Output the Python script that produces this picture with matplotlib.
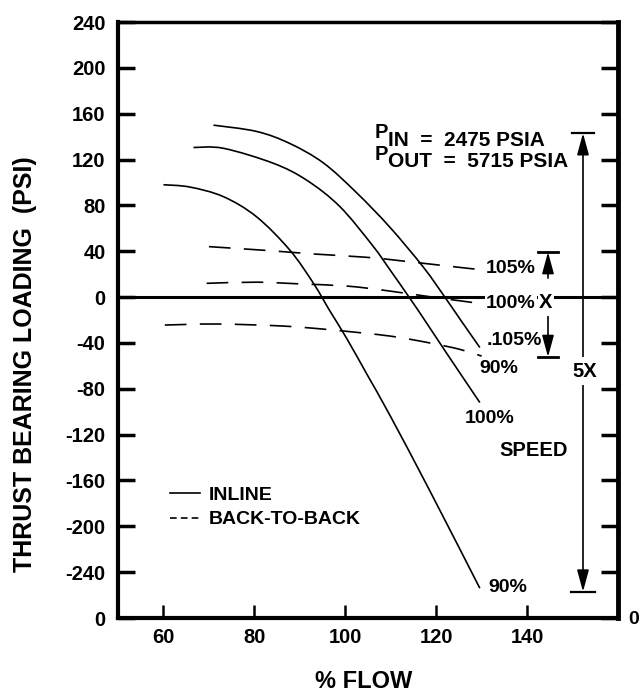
import numpy as np
import matplotlib
matplotlib.use('Agg')
import matplotlib.pyplot as plt
from matplotlib.lines import Line2D
from matplotlib.path import Path
from matplotlib.patches import PathPatch

plt.rcParams['font.family'] = ['Liberation Sans', 'DejaVu Sans']
plt.rcParams['font.weight'] = 'bold'

# inline arrangement (solid curves)
inline_upper_x = [71, 80.5, 87.8, 95.2, 102.5, 109.8, 117.2, 121.9, 125.2, 129.6]
inline_upper_y = [150, 144.5, 134, 117, 91, 61, 26, 0, -19, -44]
inline_mid_x = [66.6, 73.2, 84.2, 91.5, 98.8, 106, 109.8, 114.2, 117.2, 122.3, 129.6]
inline_mid_y = [130.5, 129.8, 116.7, 102, 79, 45, 24, -1, -18.5, -49, -92]
inline_low_x = [60, 65.8, 73.2, 80.5, 87.8, 93, 96.6, 100.3, 105, 109.8, 118.6, 129.6]
inline_low_y = [98, 96, 87.6, 70, 41, 12, -12, -36, -69, -103, -169, -254]

# back-to-back arrangement (dashed curves)
btb_105_x = [70, 83.4, 93, 104.7, 112.8, 123.8, 129.5]
btb_105_y = [44, 40.5, 37.6, 34.7, 31.4, 26.5, 24]
btb_100_x = [69.5, 80.5, 90, 100.3, 108.4, 118.6, 129.5]
btb_100_y = [12, 13, 11.5, 9.6, 6, 0.3, -5.5]
btb_low_x = [60.3, 71.7, 86.4, 97.4, 109.8, 118.3, 125.2, 130]
btb_low_y = [-24.4, -23.5, -25.3, -28.8, -34, -39.8, -45.6, -51.5]

x_ticks = [60, 80, 100, 120, 140]
y_ticks = [240, 200, 160, 120, 80, 40, 0, -40, -80, -120, -160, -200, -240, -280]
y_tick_labels = ['240', '200', '160', '120', '80', '40', '0', '-40', '-80',
                 '-120', '-160', '-200', '-240', '0']

# dimension markers on the right
x_dim_pos, x_dim_top, x_dim_bot = 144.6, 39.3, -52.3
big_dim_pos, big_dim_top, big_dim_bot = 152.3, 143, -257


def smooth_curve(ax, xs, ys, **kw):
    # draw the read points as one smooth line (Catmull-Rom as bezier segments)
    p = np.column_stack([xs, ys]).astype(float)
    ext = np.vstack([p[0], p, p[-1]])
    verts = [p[0]]
    codes = [Path.MOVETO]
    for i in range(len(p) - 1):
        c1 = ext[i + 1] + (ext[i + 2] - ext[i]) / 6
        c2 = ext[i + 2] - (ext[i + 3] - ext[i + 1]) / 6
        verts += [c1, c2, ext[i + 2]]
        codes += [Path.CURVE4] * 3
    ax.add_patch(PathPatch(Path(verts, codes), fill=False, **kw))


fig = plt.figure(figsize=(6.4, 6.95), dpi=100)
ax = fig.add_axes([118/640, 77/695, 500/640, 596/695])

lw = 1.2
dash = (0, (13, 8))
smooth_curve(ax, inline_upper_x, inline_upper_y, edgecolor='k', lw=lw)
smooth_curve(ax, inline_mid_x, inline_mid_y, edgecolor='k', lw=lw)
smooth_curve(ax, inline_low_x, inline_low_y, edgecolor='k', lw=lw)
smooth_curve(ax, btb_105_x, btb_105_y, edgecolor='k', lw=lw, ls=dash)
smooth_curve(ax, btb_100_x, btb_100_y, edgecolor='k', lw=lw, ls=dash)
smooth_curve(ax, btb_low_x, btb_low_y, edgecolor='k', lw=lw, ls=dash)

ax.axhline(0, color='k', lw=2.2, zorder=1)

ax.set_xlim(50, 160)
ax.set_ylim(-280, 240)
ax.set_xticks(x_ticks)
ax.set_yticks(y_ticks)
ax.set_yticklabels(y_tick_labels)

ax.tick_params(axis='y', direction='in', length=12, width=2.5, right=True,
               labelright=False, labelsize=14.5, pad=9)
ax.tick_params(axis='x', direction='in', length=9.5, width=1.8,
               labelsize=14.5, pad=7)
for side, w in [('left', 3), ('bottom', 3), ('right', 3.5), ('top', 2.5)]:
    ax.spines[side].set_linewidth(w)

ax.set_ylabel('THRUST BEARING LOADING  (PSI)', fontsize=18, fontweight='bold')
ax.yaxis.set_label_coords(-0.162, 0.426)
ax.set_xlabel('% FLOW', fontsize=17, fontweight='bold')
ax.xaxis.set_label_coords(0.492, -0.088)

# legend
handles = [Line2D([], [], color='k', lw=lw),
           Line2D([], [], color='k', lw=lw, ls=(0, (4, 2.5)))]
ax.legend(handles, ['INLINE', 'BACK-TO-BACK'], loc='upper left',
          bbox_to_anchor=(0.104, 0.221), frameon=False, fontsize=14,
          handlelength=1.55, handletextpad=0.45, borderpad=0, borderaxespad=0,
          labelspacing=0.35)

# pressure annotation
ax.text(106.5, 143.6, 'P', fontsize=14.5, va='center', ha='left')
ax.text(109.4, 136.2, 'IN  =  2475 PSIA', fontsize=15, va='center', ha='left')
ax.text(106.5, 124.4, 'P', fontsize=14.5, va='center', ha='left')
ax.text(109.4, 118.3, 'OUT  =  5715 PSIA', fontsize=15, va='center', ha='left')

# curve labels
white = dict(facecolor='white', edgecolor='none', pad=1)
ax.text(131, 25.3, '105%', fontsize=14, va='center', ha='left')
ax.text(131, -6, '100%', fontsize=14, va='center', ha='left', bbox=white)
ax.text(131, -37.5, '.105%', fontsize=14, va='center', ha='left')
ax.text(129.4, -62, '90%', fontsize=14, va='center', ha='left')
ax.text(126.3, -105.6, '100%', fontsize=14, va='center', ha='left')
ax.text(134, -133.5, 'SPEED', fontsize=14.5, va='center', ha='left')
ax.text(131.4, -253, '90%', fontsize=14, va='center', ha='left')

# X dimension
arr = dict(arrowstyle='-|>,head_length=1.1,head_width=0.3', color='k', lw=1.2,
           mutation_scale=12, shrinkA=0, shrinkB=0)
ax.plot([x_dim_pos - 2.2, x_dim_pos + 2.2], [x_dim_top, x_dim_top], color='k', lw=2)
ax.plot([x_dim_pos - 2.2, x_dim_pos + 2.2], [x_dim_bot, x_dim_bot], color='k', lw=2)
ax.annotate('', xy=(x_dim_pos, x_dim_top), xytext=(x_dim_pos, 16.6), arrowprops=arr)
ax.annotate('', xy=(x_dim_pos, x_dim_bot), xytext=(x_dim_pos, -17), arrowprops=arr)
ax.text(x_dim_pos - 0.5, -5, 'X', fontsize=14.5, va='center', ha='center', bbox=white)

# 5X dimension
ax.plot([big_dim_pos - 2.4, big_dim_pos + 2.4], [big_dim_top, big_dim_top], color='k', lw=1.6)
ax.plot([big_dim_pos - 2.6, big_dim_pos + 2.6], [big_dim_bot, big_dim_bot], color='k', lw=1.6)
mid = (big_dim_top + big_dim_bot) / 2
ax.annotate('', xy=(big_dim_pos, big_dim_top), xytext=(big_dim_pos, mid), arrowprops=arr)
ax.annotate('', xy=(big_dim_pos, big_dim_bot), xytext=(big_dim_pos, mid), arrowprops=arr)
ax.text(big_dim_pos + 0.3, -64.5, '5X', fontsize=14.5, va='center', ha='center',
        bbox=dict(facecolor='white', edgecolor='none', pad=3))

fig.text(628/640, 1 - 620/695, '0', fontsize=14, va='center', ha='left')

fig.savefig('out.png', dpi=100, facecolor='white')
